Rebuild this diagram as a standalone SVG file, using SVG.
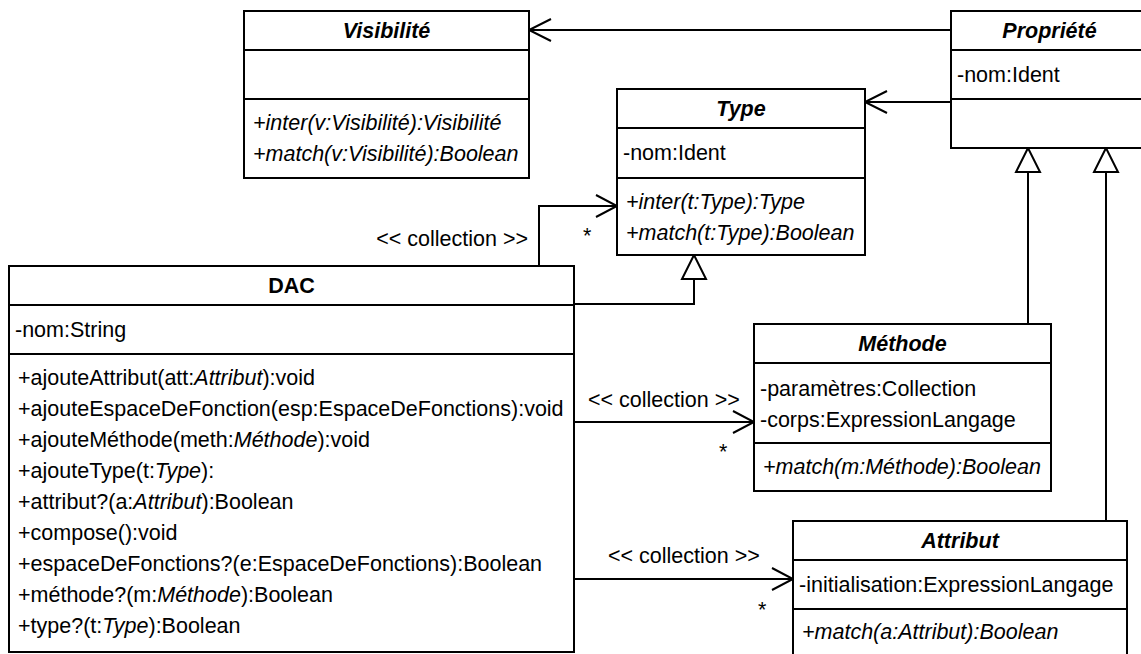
<svg xmlns="http://www.w3.org/2000/svg" width="1141" height="654" viewBox="0 0 1141 654">
<style>
text{font-family:"Liberation Sans",Arial,sans-serif;font-size:21.5px;fill:#000}
.t{font-weight:bold;font-style:italic;text-anchor:middle}
.tb{font-weight:bold;text-anchor:middle}
.i{font-style:italic}
.box{fill:#fff;stroke:#000;stroke-width:2}
.sep{stroke:#000;stroke-width:2}
.c{fill:none;stroke:#000;stroke-width:2}
.tri{fill:#fff;stroke:#000;stroke-width:2}
</style>
<rect width="1141" height="654" fill="#fff"/>
<g id="connectors">
<path class="c" d="M951,30 H529"/>
<polyline class="c" points="551,19 529,30 551,41"/>
<path class="c" d="M951,102 H865"/>
<polyline class="c" points="887,91 865,102 887,113"/>
<path class="c" d="M539,266 V206 H617"/>
<polyline class="c" points="596,195 617,206 596,217"/>
<text x="528" y="246" text-anchor="end">&lt;&lt; collection &gt;&gt;</text>
<text x="583" y="243">*</text>
<path class="c" d="M574,422 H754"/>
<polyline class="c" points="733,411 754,422 733,433"/>
<text x="588" y="407">&lt;&lt; collection &gt;&gt;</text>
<text x="719" y="459">*</text>
<path class="c" d="M574,579 H793"/>
<polyline class="c" points="772,568 793,579 772,590"/>
<text x="608" y="563">&lt;&lt; collection &gt;&gt;</text>
<text x="758" y="617">*</text>
<path class="c" d="M574,304 H694 V279"/>
<polygon class="tri" points="694,255 682,279 706,279"/>
<path class="c" d="M1028,324 V172"/>
<polygon class="tri" points="1028,148 1016,172 1040,172"/>
<path class="c" d="M1106,521 V172"/>
<polygon class="tri" points="1106,148 1094,172 1118,172"/>
</g>
<g id="visibilite">
<rect class="box" x="244" y="11" width="285" height="167"/>
<line class="sep" x1="244" y1="50" x2="529" y2="50"/>
<line class="sep" x1="244" y1="99" x2="529" y2="99"/>
<text class="t" x="386.5" y="38">Visibilité</text>
<text class="i" x="253" y="130">+inter(v:Visibilité):Visibilité</text>
<text class="i" x="253" y="161">+match(v:Visibilité):Boolean</text>
</g>
<g id="propriete">
<rect class="box" x="951" y="11" width="197" height="137"/>
<line class="sep" x1="951" y1="50" x2="1148" y2="50"/>
<line class="sep" x1="951" y1="99" x2="1148" y2="99"/>
<text class="t" x="1049.5" y="38">Propriété</text>
<text x="957" y="82">-nom:Ident</text>
</g>
<g id="type">
<rect class="box" x="617" y="89" width="248" height="166"/>
<line class="sep" x1="617" y1="128" x2="865" y2="128"/>
<line class="sep" x1="617" y1="178" x2="865" y2="178"/>
<text class="t" x="741" y="116">Type</text>
<text x="623" y="160">-nom:Ident</text>
<text class="i" x="626" y="209">+inter(t:Type):Type</text>
<text class="i" x="626" y="240">+match(t:Type):Boolean</text>
</g>
<g id="dac">
<rect class="box" x="9" y="266" width="565" height="386"/>
<line class="sep" x1="9" y1="305" x2="574" y2="305"/>
<line class="sep" x1="9" y1="354" x2="574" y2="354"/>
<text class="tb" x="291.5" y="293">DAC</text>
<text x="15" y="337">-nom:String</text>
<text x="18" y="385">+ajouteAttribut(att:<tspan class="i">Attribut</tspan>):void</text>
<text x="18" y="416">+ajouteEspaceDeFonction(esp:EspaceDeFonctions):void</text>
<text x="18" y="447">+ajouteMéthode(meth:<tspan class="i">Méthode</tspan>):void</text>
<text x="18" y="478">+ajouteType(t:<tspan class="i">Type</tspan>):</text>
<text x="18" y="509">+attribut?(a:<tspan class="i">Attribut</tspan>):Boolean</text>
<text x="18" y="540">+compose():void</text>
<text x="18" y="571">+espaceDeFonctions?(e:EspaceDeFonctions):Boolean</text>
<text x="18" y="602">+méthode?(m:<tspan class="i">Méthode</tspan>):Boolean</text>
<text x="18" y="633">+type?(t:<tspan class="i">Type</tspan>):Boolean</text>
</g>
<g id="methode">
<rect class="box" x="754" y="324" width="297" height="167"/>
<line class="sep" x1="754" y1="363" x2="1051" y2="363"/>
<line class="sep" x1="754" y1="443" x2="1051" y2="443"/>
<text class="t" x="902.5" y="351">Méthode</text>
<text x="760" y="396">-paramètres:Collection</text>
<text x="760" y="427">-corps:ExpressionLangage</text>
<text class="i" x="763" y="474">+match(m:Méthode):Boolean</text>
</g>
<g id="attribut">
<rect class="box" x="793" y="521" width="334" height="140"/>
<line class="sep" x1="793" y1="560" x2="1127" y2="560"/>
<line class="sep" x1="793" y1="609" x2="1127" y2="609"/>
<text class="t" x="960" y="548">Attribut</text>
<text x="799" y="592">-initialisation:ExpressionLangage</text>
<text class="i" x="802" y="639">+match(a:Attribut):Boolean</text>
</g>
</svg>
